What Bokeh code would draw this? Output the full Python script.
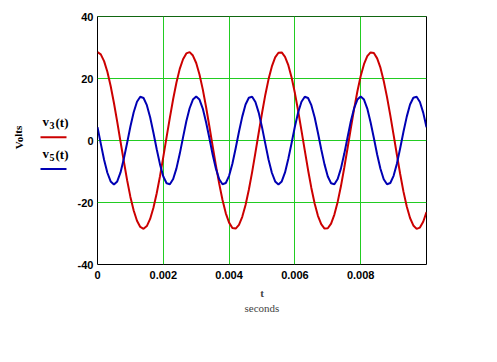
from bokeh.plotting import figure
from bokeh.layouts import row
from bokeh.models import Range1d, FixedTicker, Span, LinearAxis
from bokeh.core.properties import value
from bokeh.embed import file_html
from bokeh.resources import INLINE

# ---- data ----
t_step = 0.0001
t_vals = [round(i * t_step, 4) for i in range(101)]

v3_vals = [28.5, 27.8, 25.6, 22.2, 17.6, 12.1, 6.0, -0.4, -6.7, -12.8,
           -18.2, -22.6, -25.9, -27.9, -28.5, -27.6, -25.3, -21.7, -17.0, -11.5,
           -5.3, 1.1, 7.4, 13.4, 18.7, 23.1, 26.2, 28.1, 28.5, 27.4,
           25.0, 21.3, 16.5, 10.8, 4.6, -1.8, -8.1, -14.0, -19.2, -23.5,
           -26.5, -28.2, -28.4, -27.2, -24.6, -20.8, -15.9, -10.2, -3.9, 2.5,
           8.8, 14.7, 19.8, 23.9, 26.8, 28.3, 28.4, 27.0, 24.3, 20.3,
           15.3, 9.5, 3.2, -3.2, -9.5, -15.3, -20.3, -24.3, -27.0, -28.4,
           -28.3, -26.8, -23.9, -19.8, -14.7, -8.8, -2.5, 3.9, 10.2, 15.9,
           20.8, 24.6, 27.2, 28.4, 28.2, 26.5, 23.5, 19.2, 14.0, 8.1,
           1.8, -4.6, -10.8, -16.5, -21.3, -25.0, -27.4, -28.5, -28.1, -26.2,
           -23.1]

v5_vals = [4.3, -1.0, -6.2, -10.4, -13.2, -14.2, -13.2, -10.3, -5.9, -0.8,
           4.5, 9.1, 12.5, 14.1, 13.7, 11.4, 7.5, 2.5, -2.8, -7.7,
           -11.6, -13.8, -14.1, -12.4, -9.0, -4.3, 1.0, 6.2, 10.4, 13.2,
           14.2, 13.2, 10.3, 5.9, 0.8, -4.5, -9.1, -12.5, -14.1, -13.7,
           -11.4, -7.5, -2.5, 2.8, 7.7, 11.6, 13.8, 14.1, 12.4, 9.0,
           4.3, -1.0, -6.2, -10.4, -13.2, -14.2, -13.2, -10.3, -5.9, -0.8,
           4.5, 9.1, 12.5, 14.1, 13.7, 11.4, 7.5, 2.5, -2.8, -7.7,
           -11.6, -13.8, -14.1, -12.4, -9.0, -4.3, 1.0, 6.2, 10.4, 13.2,
           14.2, 13.2, 10.3, 5.9, 0.8, -4.5, -9.1, -12.5, -14.1, -13.7,
           -11.4, -7.5, -2.5, 2.8, 7.7, 11.6, 13.8, 14.1, 12.4, 9.0,
           4.3]

x_ticks = [0, 0.002, 0.004, 0.006, 0.008]
x_tick_labels = ["0", "0.002", "0.004", "0.006", "0.008"]
y_ticks = [-40, -20, 0, 20, 40]
y_tick_labels = ["-40", "-20", "0", "20", "40"]

series_names = ["3", "5"]
x_title = "t"
x_units_title = "seconds"
y_title = "Volts"

X0, X1 = 0.0, 0.01
Y0, Y1 = -40, 40

RED = "#cc0000"
BLUE = "#0000b4"
GREEN = "#22cc22"
serif = "Liberation Serif"

# ---- layout ----
W, H = 497, 362
LW = 72                     # width of the side panel with legend
FL, FR, FT, FB = 97, 426, 16, 264  # frame edges in page px

# side panel (legend + y title), coordinates = page pixels
side = figure(width=LW, height=H, output_backend="svg", toolbar_location=None,
              x_range=Range1d(0, LW), y_range=Range1d(FB, FT),
              min_border_left=0, min_border_right=0,
              min_border_top=FT, min_border_bottom=H - FB,
              x_axis_type=None, y_axis_type=None)
side.xgrid.visible = False
side.ygrid.visible = False
side.outline_line_color = None
side.background_fill_color = "white"
side.border_fill_color = "white"

side.text(x=[18], y=[137], text=[y_title], angle=1.5708,
          text_align="center", text_baseline="middle",
          text_font=value(serif), text_font_size="11px",
          text_font_style="bold", text_color="black")

for i, (color, sub) in enumerate(zip([RED, BLUE], series_names)):
    base = 121 + 32 * i
    side.text(x=[42], y=[base], text=["v"], text_align="left",
              text_baseline="alphabetic", text_font=value(serif),
              text_font_size="13px", text_font_style="bold", text_color="black")
    side.text(x=[49], y=[base + 4], text=[sub], text_align="left",
              text_baseline="alphabetic", text_font=value(serif),
              text_font_size="10px", text_font_style="bold", text_color="black")
    side.text(x=[55], y=[base + 1], text=["(t)"], text_align="left",
              text_baseline="alphabetic", text_font=value(serif),
              text_font_size="13px", text_font_style="bold", text_color="black")
    ly = base + 15.7 - 0.2 * i
    side.line(x=[40, 66], y=[ly, ly], line_color=color, line_width=2)

# main plot
p = figure(width=W - LW, height=H, output_backend="svg", toolbar_location=None,
           x_range=Range1d(X0, X1), y_range=Range1d(Y0, Y1),
           min_border_left=FL - LW, min_border_right=W - FR,
           min_border_top=FT, min_border_bottom=H - FB)
p.background_fill_color = "white"
p.border_fill_color = "white"
p.outline_line_color = "black"
p.outline_line_width = 1

for ax in (p.xaxis[0], p.yaxis[0]):
    ax.axis_line_color = None
    ax.major_tick_line_color = None
    ax.minor_tick_line_color = None
    ax.major_tick_out = 0
    ax.major_tick_in = 0
    ax.minor_tick_out = 0
    ax.minor_tick_in = 0
    ax.major_label_text_font = "Liberation Sans"
    ax.major_label_text_font_style = "bold"
    ax.major_label_text_font_size = "11px"
    ax.major_label_text_color = "black"

p.xaxis[0].ticker = FixedTicker(ticks=x_ticks)
p.xaxis[0].major_label_overrides = {t: s for t, s in zip(x_ticks, x_tick_labels)}
p.xaxis[0].major_label_standoff = 6
p.xaxis[0].axis_label = x_title
p.xaxis[0].axis_label_text_font = serif
p.xaxis[0].axis_label_text_font_style = "bold"
p.xaxis[0].axis_label_text_font_size = "11px"
p.xaxis[0].axis_label_standoff = 5

p.yaxis[0].ticker = FixedTicker(ticks=y_ticks)
p.yaxis[0].major_label_overrides = {t: s for t, s in zip(y_ticks, y_tick_labels)}
p.yaxis[0].major_label_standoff = 4

unit_axis = LinearAxis(ticker=FixedTicker(ticks=[]), axis_label=x_units_title,
                       axis_line_color=None, major_tick_line_color=None,
                       minor_tick_line_color=None, axis_label_standoff=0,
                       major_tick_out=0, major_tick_in=0,
                       axis_label_text_font=serif, axis_label_text_font_size="11px",
                       axis_label_text_font_style="normal",
                       major_label_text_font_size="0px")
p.add_layout(unit_axis, "below")

p.xgrid.grid_line_color = GREEN
p.ygrid.grid_line_color = GREEN
p.xgrid.grid_line_alpha = 1
p.ygrid.grid_line_alpha = 1

p.line(t_vals, v3_vals, line_color=RED, line_width=2)
p.line(t_vals, v5_vals, line_color=BLUE, line_width=2)

p.add_layout(Span(location=40, dimension="width", line_color=GREEN, line_width=1))

layout = row(side, p, spacing=0)
open("out.html", "w").write(file_html(layout, INLINE))
